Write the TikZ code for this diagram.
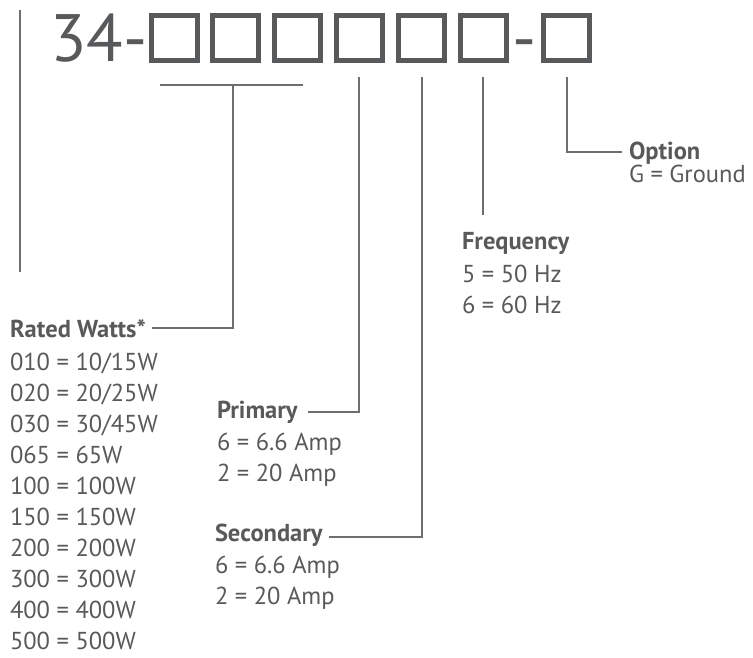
\documentclass[tikz,border=0pt]{standalone}
\usepackage{fontspec}
\setmainfont{PT Sans}
\definecolor{txt}{HTML}{58595B}
\definecolor{ln}{HTML}{6D6E70}
\begin{document}
\begin{tikzpicture}[x=1pt,y=-1pt,
  lbl/.style={anchor=base west, inner sep=0pt, outer sep=0pt, text=txt, font=\fontsize{24.5}{30}\selectfont},
  ttl/.style={lbl, font=\fontsize{24.5}{30}\selectfont\bfseries},
  big/.style={anchor=base west, inner sep=0pt, text=txt, font=\fontsize{67}{70}\selectfont},
  slot/.style={draw=txt, line width=5pt, minimum width=46pt, minimum height=45pt, inner sep=0pt, outer sep=0pt},
  conn/.style={draw=ln, line width=2pt}]
\useasboundingbox (0,0) rectangle (753,658);
% left rule
\coordinate (lt) at (20,10);
\coordinate (lb) at (20,272);
\draw[conn] (lt) -- (lb);
% code
\node[big] (code) at (50,62) {34-};
\foreach \n/\x in {1/174,2/235.5,3/297.5,4/359,5/421.5,6/483,7/566.5}
  \node[slot] (b\n) at (\x,38) {};
\node[big, anchor=base] (dash) at (525,62) {-};
\coordinate (top) at (0,77);
% labels
\node[ttl] (rw) at (10,337) {Rated Watts*};
\foreach \t [count=\i] in {010 = 10/15W,020 = 20/25W,030 = 30/45W,065 = 65W,100 = 100W,150 = 150W,200 = 200W,300 = 300W,400 = 400W,500 = 500W}
  \node[lbl] (rw\i) at (10,339+31*\i) {\t};
\node[ttl] (prim) at (217,418) {Primary};
\node[lbl] (prim1) at (217,450) {6 = 6.6 Amp};
\node[lbl] (prim2) at (217,481) {2 = 20 Amp};
\node[ttl] (sec) at (215,541) {Secondary};
\node[lbl] (sec1) at (215,573) {6 = 6.6 Amp};
\node[lbl] (sec2) at (215,604) {2 = 20 Amp};
\node[ttl] (freq) at (462,250) {Frequency};
\node[lbl] (freq1) at (462,282) {5 = 50 Hz};
\node[lbl] (freq2) at (462,313) {6 = 60 Hz};
\node[ttl] (opt) at (629,160) {Option};
\node[lbl] (opt1) at (629,183) {G = Ground};
% connectors
\coordinate (bl) at (160,85);
\coordinate (brr) at (303,85);
\coordinate (bc) at (233,85);
\draw[conn] (bl) -- (brr);
\draw[conn] (bc) |- ([shift={(6,-9)}]rw.base east);
\draw[conn] (b4 |- top) |- ([shift={(10,-6)}]prim.base east);
\draw[conn] (b5 |- top) |- ([shift={(6,-4)}]sec.base east);
\coordinate (fe) at (483,215);
\draw[conn] (b6 |- top) -- (fe);
\draw[conn] (b7 |- top) |- ([shift={(-7,-8)}]opt.base west);
\end{tikzpicture}
\end{document}
